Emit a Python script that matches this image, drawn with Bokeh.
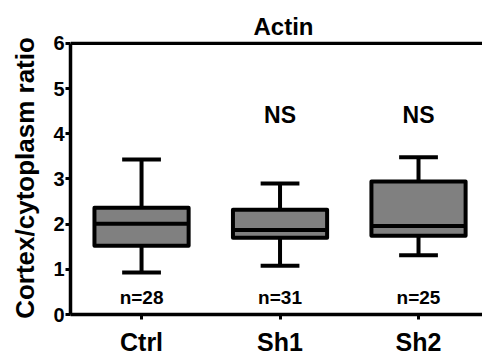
from bokeh.plotting import figure
from bokeh.models import Range1d, Span, ColumnDataSource, FixedTicker
from bokeh.core.properties import value
from bokeh.embed import file_html
from bokeh.resources import INLINE

categories = ["Ctrl", "Sh1", "Sh2"]
lower_whisker = [0.93, 1.08, 1.31]
q1 = [1.52, 1.70, 1.74]
median = [2.01, 1.87, 1.96]
q3 = [2.36, 2.32, 2.94]
upper_whisker = [3.43, 2.90, 3.48]
n_labels = ["n=28", "n=31", "n=25"]
sig_labels = ["", "NS", "NS"]
y_ticks = [0, 1, 2, 3, 4, 5, 6]

FONT = "Liberation Sans"
BOX_W = 0.68
CAP_W = 0.28

xs = list(range(len(categories)))
src = ColumnDataSource(dict(
    x=xs,
    lo=lower_whisker, q1=q1, med=median, q3=q3, hi=upper_whisker,
    left=[x - BOX_W / 2 for x in xs], right=[x + BOX_W / 2 for x in xs],
    cl=[x - CAP_W / 2 for x in xs], cr=[x + CAP_W / 2 for x in xs],
    n=n_labels, sig=sig_labels,
))

p = figure(width=482, height=358, output_backend="svg", toolbar_location=None,
           x_range=Range1d(-0.513, 2.462), y_range=Range1d(0, 6.04),
           min_border_left=70, min_border_right=0, min_border_bottom=41, min_border_top=41,
           title="Actin")
p.outline_line_color = None
p.grid.visible = False
p.background_fill_color = "white"

p.title.text_font = FONT
p.title.text_font_size = "24px"
p.title.text_font_style = "bold"
p.title.text_color = "black"
p.title.align = "left"
p.title.offset = 183
p.title.standoff = 4

# whiskers
lw = 4
p.segment(x0="x", y0="q3", x1="x", y1="hi", source=src, line_color="black", line_width=lw)
p.segment(x0="x", y0="q1", x1="x", y1="lo", source=src, line_color="black", line_width=lw)
p.segment(x0="cl", y0="hi", x1="cr", y1="hi", source=src, line_color="black", line_width=lw)
p.segment(x0="cl", y0="lo", x1="cr", y1="lo", source=src, line_color="black", line_width=lw)
# boxes
p.quad(left="left", right="right", bottom="q1", top="q3", source=src,
       fill_color="#808080", line_color="black", line_width=lw, line_join="round")
p.segment(x0="left", y0="med", x1="right", y1="med", source=src, line_color="black", line_width=lw)

# texts
p.text(x="x", y=4.42, text="sig", source=src, text_font=value(FONT), text_font_style="bold",
       text_font_size="23px", text_align="center", text_baseline="middle", text_color="black")
p.text(x="x", y=0.37, text="n", source=src, text_font=value(FONT), text_font_style="bold",
       text_font_size="19px", text_align="center", text_baseline="middle", text_color="black")

p.add_layout(Span(location=6, dimension="width", line_color="black", line_width=3.5))

# axes
p.xaxis.ticker = FixedTicker(ticks=xs)
p.xaxis.major_label_overrides = {i: c for i, c in enumerate(categories)}
p.yaxis.ticker = FixedTicker(ticks=y_ticks)
p.yaxis.bounds = (0, 6)
p.yaxis.axis_label = "Cortex/cytoplasm ratio"
for ax in (p.xaxis[0], p.yaxis[0]):
    ax.axis_line_width = 3.5
    ax.axis_line_color = "black"
    ax.major_tick_line_width = 3
    ax.major_tick_line_color = "black"
    ax.major_tick_out = 5
    ax.major_tick_in = 0
    ax.minor_tick_line_color = None
    ax.major_label_text_font = FONT
    ax.major_label_text_font_style = "bold"
    ax.major_label_text_color = "black"
p.xaxis.major_label_text_font_size = "25px"
p.xaxis.major_label_standoff = 8
p.yaxis.major_label_text_font_size = "20px"
p.yaxis.major_label_standoff = 1
p.yaxis.axis_label_text_font = FONT
p.yaxis.axis_label_text_font_size = "26px"
p.yaxis.axis_label_text_font_style = "bold"
p.yaxis.axis_label_text_color = "black"
p.yaxis.axis_label_standoff = 10

open("out.html", "w").write(file_html(p, INLINE))
